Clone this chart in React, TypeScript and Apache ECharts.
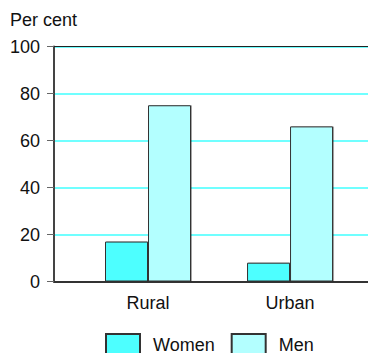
import React, { useEffect, useRef } from "react";
import * as echarts from "echarts";

// Share of population by area and sex, per cent
const categories = ["Rural", "Urban"];
const women = [17, 8];
const men = [75, 66];
const yTicks = { min: 0, max: 100, interval: 20 };

const FONT = "'Liberation Sans', Arial, sans-serif";
const WOMEN_COLOR = "#4dffff";
const MEN_COLOR = "#b3ffff";
const GRID_COLOR = "#40ffff";
const X_MIN = 0.338;
const X_MAX = 2.549;

// bars sit at positions 1..n on a numeric x scale
const toPoints = (vals: number[]) => vals.map((v, i) => [i + 1, v]);

export default function App() {
  const ref = useRef<HTMLDivElement>(null);

  useEffect(() => {
    document.body.style.margin = "0";
    if (!ref.current) return;
    const chart = echarts.init(ref.current, undefined, { renderer: "svg" });

    const barStyle = (color: string) => ({
      color,
      borderColor: "#333",
      borderWidth: 1,
      shadowColor: "rgba(0,0,0,0.35)",
      shadowOffsetX: 1,
      shadowOffsetY: 0,
      shadowBlur: 0,
    });

    chart.setOption({
      animation: false,
      textStyle: { fontFamily: FONT },
      title: {
        text: "Per cent",
        left: 10,
        top: 11,
        padding: 0,
        textStyle: { fontSize: 18, fontWeight: "normal", color: "#111", fontFamily: FONT },
      },
      grid: { left: 54, right: 0, top: 46.5, height: 235 },
      legend: {
        left: 105,
        top: 333,
        padding: 0,
        itemWidth: 34,
        itemHeight: 21,
        itemGap: 16,
        icon: "rect",
        textStyle: { fontSize: 18, color: "#111", fontFamily: FONT, padding: [0, 0, 0, 8] },
        data: ["Women", "Men"],
      },
      xAxis: [
        {
          type: "value",
          min: X_MIN,
          max: X_MAX,
          axisLine: { show: true, lineStyle: { color: "#333", width: 2 } },
          axisTick: { show: false },
          splitLine: { show: false },
          axisLabel: {
            customValues: categories.map((_, i) => i + 1),
            formatter: (v: number) => categories[Math.round(v) - 1] ?? "",
            fontSize: 18,
            color: "#111",
            margin: 12,
            fontFamily: FONT,
          },
        },
        {
          type: "value",
          position: "top",
          min: X_MIN,
          max: X_MAX,
          axisLine: { show: true, lineStyle: { color: "#222", width: 1 } },
          axisTick: { show: false },
          axisLabel: { show: false },
          splitLine: { show: false },
        },
      ],
      yAxis: {
        type: "value",
        min: yTicks.min,
        max: yTicks.max,
        interval: yTicks.interval,
        axisLine: { show: true, lineStyle: { color: "#444", width: 2 } },
        axisTick: { show: true, length: 7, lineStyle: { color: "#666" } },
        axisLabel: { fontSize: 18, color: "#111", margin: 14, fontFamily: FONT },
        splitLine: { show: true, lineStyle: { color: GRID_COLOR, width: 1.5 } },
      },
      series: [
        {
          name: "Women",
          type: "bar",
          xAxisIndex: 0,
          barWidth: 43,
          barGap: "0%",
          itemStyle: barStyle(WOMEN_COLOR),
          data: toPoints(women),
        },
        {
          name: "Men",
          type: "bar",
          xAxisIndex: 0,
          barWidth: 43,
          barGap: "0%",
          itemStyle: barStyle(MEN_COLOR),
          data: toPoints(men),
        },
      ],
    });

    return () => chart.dispose();
  }, []);

  return <div ref={ref} style={{ width: 368, height: 353, overflow: "hidden" }} />;
}
